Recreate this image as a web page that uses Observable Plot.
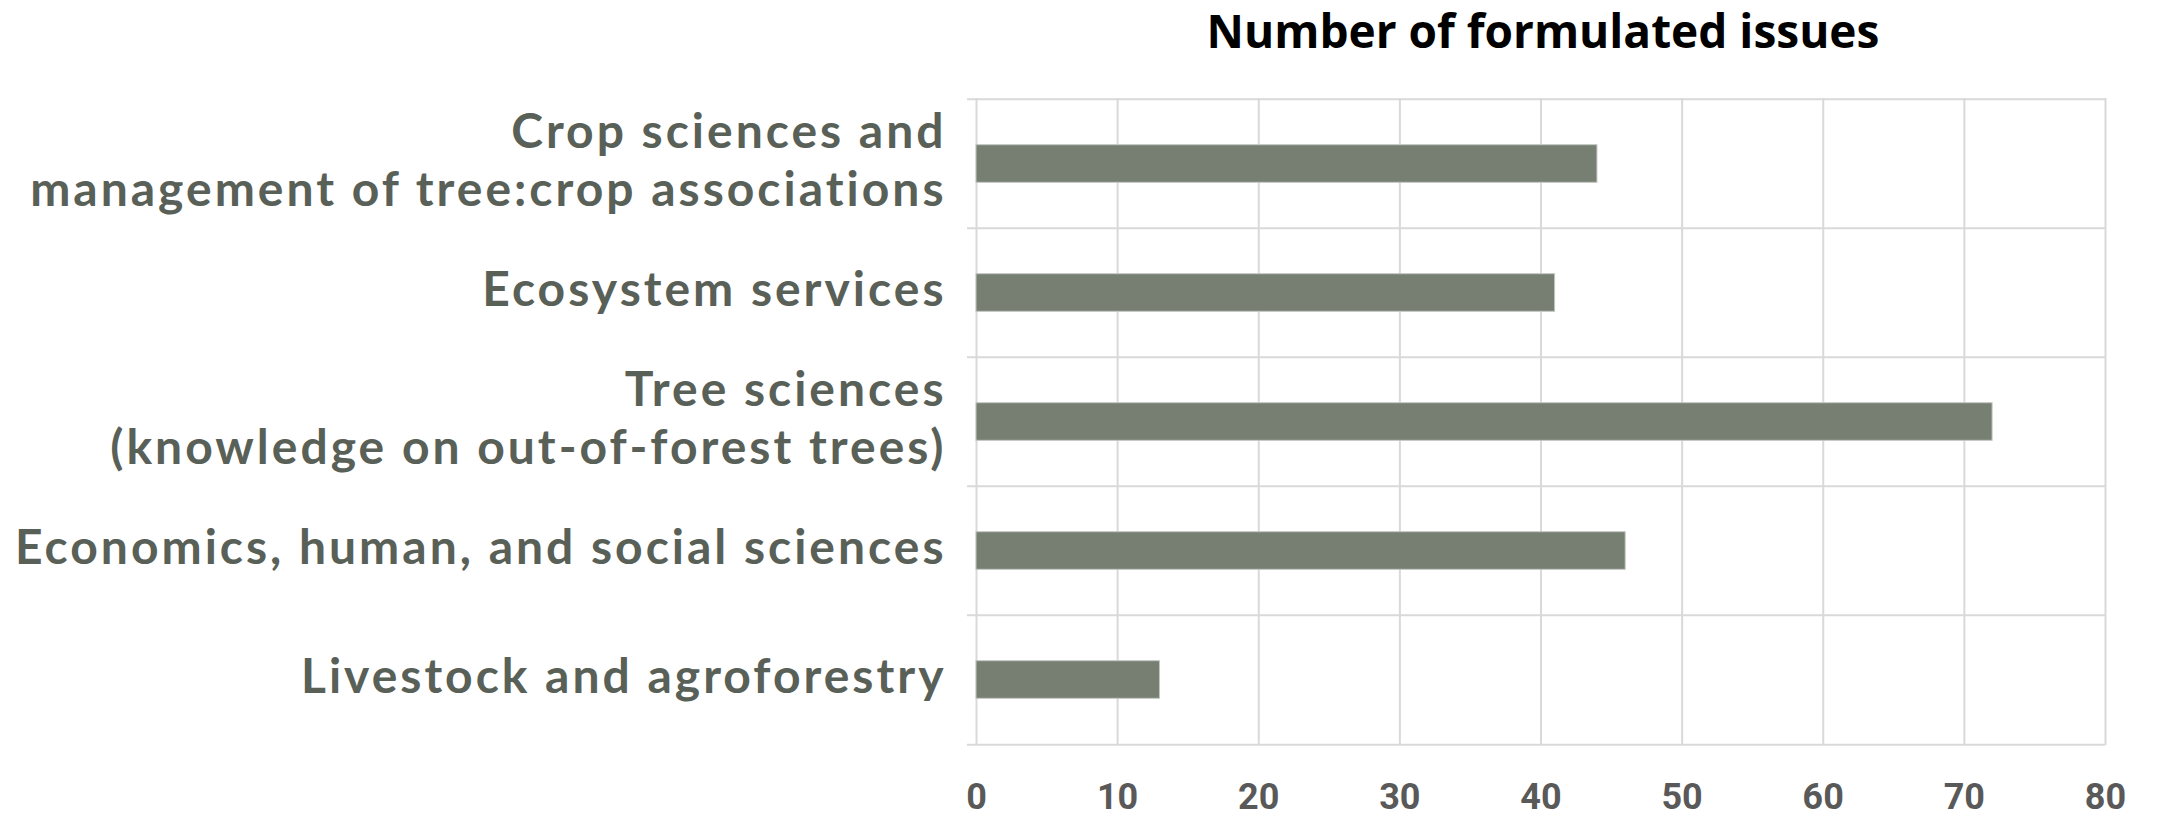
<!DOCTYPE html>
<html>
<head>
<meta charset="utf-8">
<script src="https://cdn.jsdelivr.net/npm/d3@7"></script>
<script src="https://cdn.jsdelivr.net/npm/@observablehq/plot@0.6"></script>
<style>
  html, body { margin: 0; padding: 0; background: #ffffff; }
  #title { position: relative; height: 60px; width: 2168px; }
  #title span { position: absolute; left: 1543px; top: 7px; transform: translateX(-50%);
    font-family: "Open Sans", sans-serif; font-weight: bold; font-size: 46px; line-height: 1; color: #000; white-space: nowrap; }
  g[aria-label="y-axis tick label"] text { letter-spacing: 3px; }
</style>
</head>
<body>
<div id="title"><span>Number of formulated issues</span></div>
<div id="chart"></div>
<script>
const categories = [
  "Crop sciences and\nmanagement of tree:crop associations",
  "Ecosystem services",
  "Tree sciences\n(knowledge on out-of-forest trees)",
  "Economics, human, and social sciences",
  "Livestock and agroforestry"
];
const values = [44, 41, 72, 46, 13];
const xTicks = [0, 10, 20, 30, 40, 50, 60, 70, 80];

const data = categories.map((c, i) => ({category: c, value: values[i]}));

const W = 2168, H = 774, mT = 38, mB = 89, mL = 976, mR = 63;
const step = (H - mT - mB) / categories.length;
const barH = 38;
const inset = (step - barH) / 2;
const grid = "#d9d9d9";

const chart = Plot.plot({
  width: W, height: H,
  marginTop: mT, marginBottom: mB, marginLeft: mL, marginRight: mR,
  style: {fontFamily: "Lato", background: "#ffffff"},
  x: {domain: [0, 80]},
  y: {domain: categories, padding: 0},
  marks: [
    Plot.ruleX(xTicks, {stroke: grid, strokeWidth: 2}),
    Plot.ruleY(categories, {y: d => d, x1: 0, x2: 80, dy: -step / 2, insetLeft: -9, stroke: grid, strokeWidth: 2}),
    Plot.ruleY(categories.slice(-1), {y: d => d, x1: 0, x2: 80, dy: step / 2, insetLeft: -9, stroke: grid, strokeWidth: 2}),
    Plot.barX(data, {y: "category", x: "value", fill: "#767f72", stroke: "#c3c7c1", strokeWidth: 1, insetTop: inset, insetBottom: inset}),
    Plot.axisX({ticks: xTicks, tickSize: 0, tickPadding: 38, fontSize: 36, fontFamily: "Roboto", fontWeight: "bold", color: "#595959", label: null}),
    Plot.axisY({tickSize: 0, tickPadding: 30, dy: -6, fontSize: 48, fontFamily: "Lato", fontWeight: "bold", color: "#596058", lineHeight: 1.21, label: null})
  ]
});
document.getElementById("chart").appendChild(chart);
</script>
</body>
</html>
